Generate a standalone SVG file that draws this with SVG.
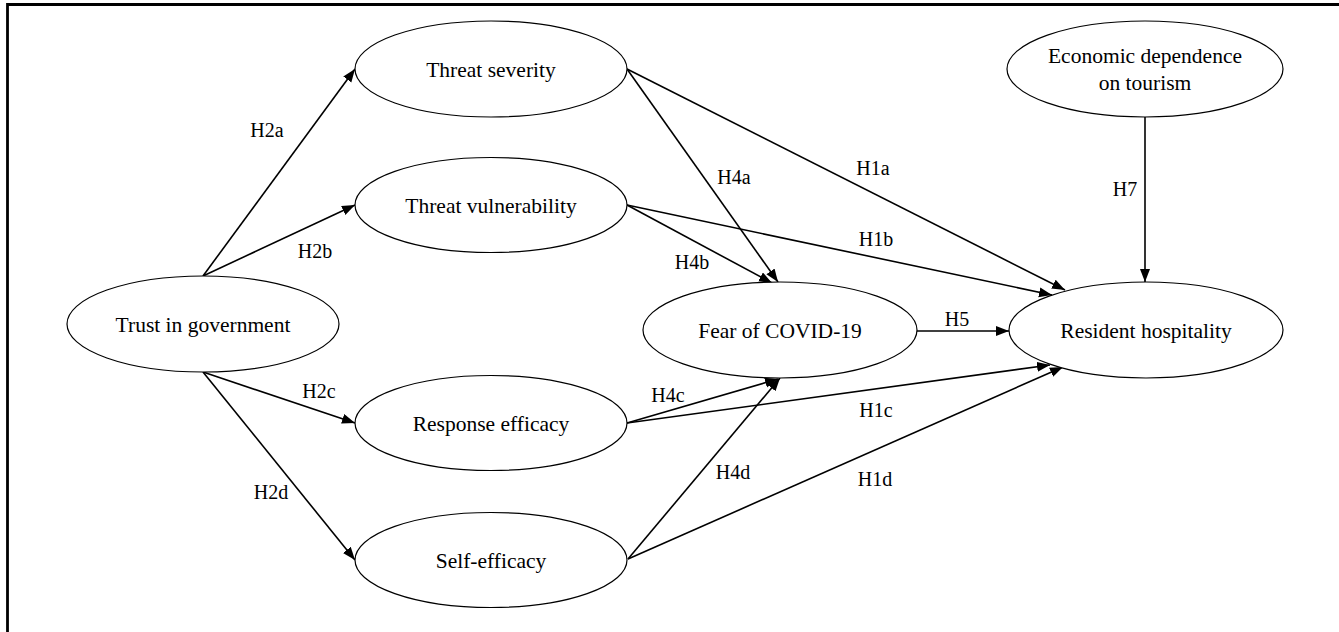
<svg xmlns="http://www.w3.org/2000/svg" width="1339" height="632" viewBox="0 0 1339 632">
<style>
text{font-family:"Liberation Serif","Times New Roman",serif;fill:#000;text-anchor:middle}
.node ellipse{fill:#fff;stroke:#000;stroke-width:1.2}
.node text{font-size:21.5px}
.lbl{font-size:20px}
.edge{fill:none;stroke:#000;stroke-width:1.6;marker-end:url(#arr)}
</style>
<defs>
<marker id="arr" markerUnits="userSpaceOnUse" markerWidth="14" markerHeight="12" refX="13" refY="5" orient="auto">
<path d="M0,0 L13,5 L0,10 z" fill="#000"/>
</marker>
</defs>
<rect x="0" y="0" width="1339" height="632" fill="#fff"/>
<path d="M7.5,632 V4.5 H1339" fill="none" stroke="#000" stroke-width="2.8"/>
<g id="connectors">
<line class="edge" x1="203" y1="276" x2="355" y2="69"/>
<line class="edge" x1="203" y1="276" x2="355" y2="205"/>
<line class="edge" x1="203" y1="372" x2="355" y2="423"/>
<line class="edge" x1="203" y1="372" x2="355" y2="560"/>
<line class="edge" x1="627" y1="69" x2="1065" y2="290"/>
<line class="edge" x1="627" y1="69" x2="778" y2="282"/>
<line class="edge" x1="627" y1="205" x2="772" y2="283"/>
<line class="edge" x1="627" y1="205" x2="1052" y2="295"/>
<line class="edge" x1="917" y1="331" x2="1009" y2="331"/>
<line class="edge" x1="627" y1="423" x2="778" y2="379"/>
<line class="edge" x1="627" y1="423" x2="1050" y2="365"/>
<line class="edge" x1="628" y1="559" x2="780" y2="378"/>
<line class="edge" x1="628" y1="559" x2="1063" y2="367"/>
<line class="edge" x1="1145" y1="117" x2="1145" y2="282"/>
<text class="lbl" x="267" y="137">H2a</text>
<text class="lbl" x="315" y="258">H2b</text>
<text class="lbl" x="319" y="398">H2c</text>
<text class="lbl" x="271" y="499">H2d</text>
<text class="lbl" x="734" y="184">H4a</text>
<text class="lbl" x="873" y="175">H1a</text>
<text class="lbl" x="692" y="269">H4b</text>
<text class="lbl" x="876" y="246">H1b</text>
<text class="lbl" x="957" y="326">H5</text>
<text class="lbl" x="668" y="402">H4c</text>
<text class="lbl" x="876" y="417">H1c</text>
<text class="lbl" x="733" y="479">H4d</text>
<text class="lbl" x="875" y="486">H1d</text>
<text class="lbl" x="1125" y="196">H7</text>
</g>
<g id="node-threat-severity" class="node">
<ellipse cx="491" cy="69" rx="136" ry="48"/>
<text x="491" y="77">Threat severity</text>
</g>
<g id="node-threat-vulnerability" class="node">
<ellipse cx="491" cy="205" rx="136" ry="47.5"/>
<text x="491" y="213">Threat vulnerability</text>
</g>
<g id="node-trust" class="node">
<ellipse cx="203" cy="324" rx="136" ry="48"/>
<text x="203" y="332">Trust in government</text>
</g>
<g id="node-response-efficacy" class="node">
<ellipse cx="491" cy="423" rx="136" ry="47.5"/>
<text x="491" y="431">Response efficacy</text>
</g>
<g id="node-self-efficacy" class="node">
<ellipse cx="491" cy="560" rx="136" ry="47.5"/>
<text x="491" y="568">Self-efficacy</text>
</g>
<g id="node-fear" class="node">
<ellipse cx="780" cy="330" rx="137" ry="48"/>
<text x="780" y="338">Fear of COVID-19</text>
</g>
<g id="node-resident-hospitality" class="node">
<ellipse cx="1146" cy="330" rx="137" ry="48"/>
<text x="1146" y="338">Resident hospitality</text>
</g>
<g id="node-economic-dependence" class="node">
<ellipse cx="1145" cy="69" rx="138" ry="48"/>
<text x="1145" y="63">Economic dependence</text>
<text x="1145" y="90">on tourism</text>
</g>
</svg>
